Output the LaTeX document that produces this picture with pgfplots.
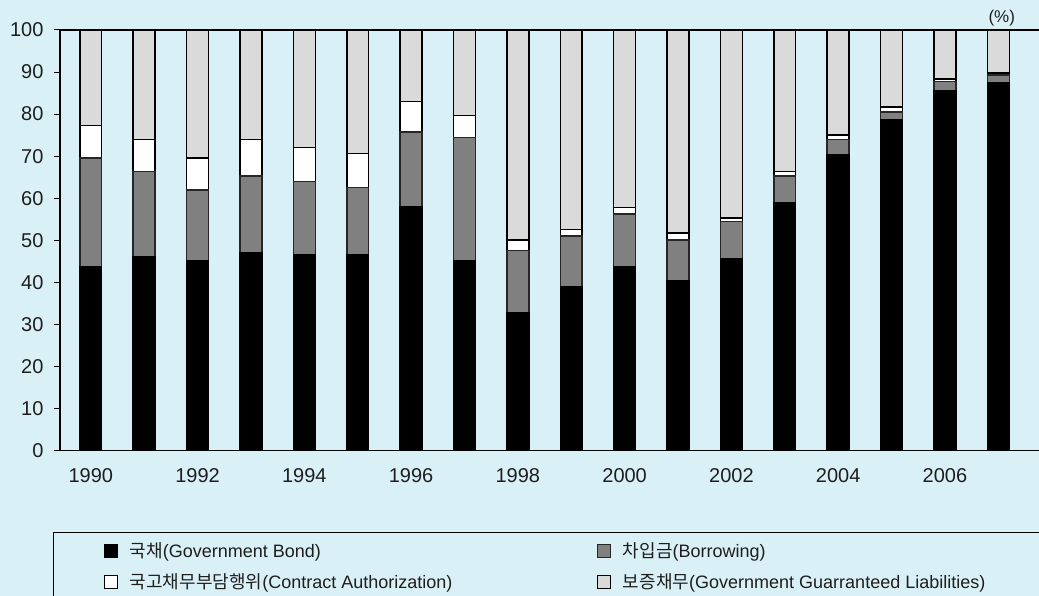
\documentclass[border=0pt]{standalone}
\usepackage{pgfplots}
\usepackage{pgfplotstable}
\pgfplotsset{compat=1.18}
\usepackage{fontspec}
\setmainfont{Liberation Sans}
\newfontfamily\kr{Noto Sans CJK KR}
\definecolor{bgc}{RGB}{218,240,247}
\definecolor{midgray}{RGB}{128,128,128}
\definecolor{lightpat}{RGB}{218,218,218}
\definecolor{txt}{RGB}{30,30,30}
\pgfplotstableread{
x bond borrow contract guar
0  43.6 25.9 7.8 22.7
1  46.1 20.2 7.7 26.0
2  45.2 16.8 7.6 30.4
3  47.1 18.2 8.7 26.0
4  46.6 17.4 8.0 28.0
5  46.6 15.9 8.1 29.4
6  57.9 17.9 7.2 17.0
7  45.2 29.2 5.3 20.3
8  32.8 14.8 2.4 50.0
9  39.0 12.0 1.6 47.4
10 43.7 12.6 1.5 42.2
11 40.4 9.7  1.6 48.3
12 45.6 8.8  0.9 44.7
13 59.0 6.3  1.0 33.7
14 70.3 3.6  1.1 25.0
15 78.6 1.9  1.2 18.3
16 85.6 2.2  0.5 11.7
17 87.5 1.8  0.5 10.2
}\data
\pgfplotsset{sqleg/.style={legend image code/.code={\draw[##1,line width=1.2bp] (0bp,-6.5bp) rectangle (13bp,6.5bp);}}}
\newcommand{\legtxt}[1]{\makebox[475bp][l]{\hspace*{10bp}#1}}
\begin{document}
\begin{tikzpicture}
\fill[bgc] (0,0) rectangle (1039bp,596bp);
\useasboundingbox (0,0) rectangle (1039bp,596bp);
\begin{axis}[
  at={(60bp,145.5bp)}, anchor=south west,
  scale only axis, width=981bp, height=420.5bp,
  clip mode=individual,
  ybar stacked, bar width=0.41,
  xmin=-0.577, xmax=17.8, ymin=0, ymax=100,
  axis line style={black, line width=1.2bp},
  ytick={0,10,...,100},
  xtick={0,2,...,16},
  xticklabels={1990,1992,1994,1996,1998,2000,2002,2004,2006},
  tick align=outside, major tick length=6bp,
  xtick style={draw=none}, ytick style={black, line width=1bp},
  tick label style={font=\fontsize{20bp}{24bp}\selectfont, text=txt},
  yticklabel style={xshift=-7bp},
  xticklabel style={yshift=-9bp},
  /pgf/number format/assume math mode=true,
  legend columns=2,
  legend cell align=left,
  legend style={at={(-0.00714,-0.1938)}, anchor=north west, draw=black, line width=1.2bp, fill=none,
    font=\fontsize{18bp}{21bp}\selectfont, text=txt, inner xsep=50bp, inner ysep=8bp, row sep=11bp},
]
\addplot[fill=black, draw=black, line width=1.5bp, sqleg] table[x=x,y=bond]{\data};
\addlegendentry{\legtxt{{\kr 국채}(Government Bond)}}
\addplot[fill=midgray, draw=black!85, line width=1.5bp, sqleg] table[x=x,y=borrow]{\data};
\addlegendentry{\legtxt{{\kr 차입금}(Borrowing)}}
\addplot[fill=white, draw=black, line width=1.5bp, sqleg] table[x=x,y=contract]{\data};
\addlegendentry{\legtxt{{\kr 국고채무부담행위}(Contract Authorization)}}
\addplot[fill=lightpat, draw=black, line width=1.5bp, sqleg] table[x=x,y=guar]{\data};
\addlegendentry{\legtxt{{\kr 보증채무}(Government Guarranteed Liabilities)}}
\node[font=\fontsize{17bp}{20bp}\selectfont, text=txt] at (rel axis cs:0.960,1.0286) {(\%)};
\end{axis}
\end{tikzpicture}
\end{document}
